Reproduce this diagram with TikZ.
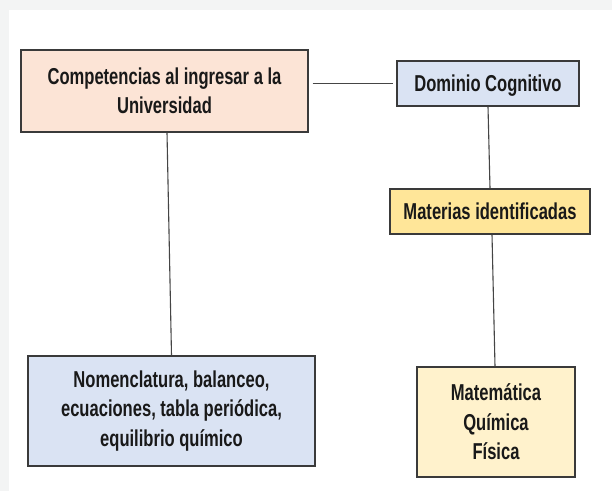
\documentclass[tikz,border=0pt]{standalone}
\usepackage{fontspec}
\newfontfamily\narrowfont{Liberation Sans}[FakeStretch=0.72]
\usetikzlibrary{shadows}
\definecolor{bgouter}{HTML}{F3F4F4}
\definecolor{peach}{HTML}{FCE4D6}
\definecolor{lblue}{HTML}{DAE3F3}
\definecolor{yel}{HTML}{FFE699}
\definecolor{lyel}{HTML}{FFF2CC}
\definecolor{edge}{HTML}{3A3A3A}
\definecolor{wire}{HTML}{454545}
\tikzset{
  boxstyle/.style={draw=edge, line width=1.2pt, inner sep=0pt, align=center,
    font=\narrowfont\bfseries\fontsize{23}{29.5}\selectfont, text=black!90,
    drop shadow={shadow xshift=0.8pt, shadow yshift=-1.2pt, opacity=0.35, fill=black}},
  wirestyle/.style={draw=wire, line width=1.1pt}
}
\begin{document}
\begin{tikzpicture}[x=1pt, y=-1pt]
\useasboundingbox (0,0) rectangle (612,491);
\fill[bgouter] (0,0) rectangle (612,491);
\fill[white] (9,10) rectangle (612,491);

\node[boxstyle, fill=peach, minimum width=287pt, minimum height=82pt] (b1) at (164.5,91)
  {Competencias al ingresar a la\\Universidad};
\node[boxstyle, fill=lblue, minimum width=182pt, minimum height=45pt, text depth=0pt] (b2) at (488,83.5)
  {Dominio Cognitivo};
\node[boxstyle, fill=yel, minimum width=200pt, minimum height=45pt] (b3) at (490,211.5)
  {Materias identificadas};
\node[boxstyle, fill=lblue, minimum width=287pt, minimum height=110pt] (b4) at (171.5,411)
  {Nomenclatura, balanceo,\\ecuaciones, tabla periódica,\\equilibrio químico};
\node[boxstyle, fill=lyel, minimum width=158pt, minimum height=110pt] (b5) at (496,422)
  {Matemática\\Química\\Física};

\draw[wirestyle, line width=1.7pt] ([xshift=4pt]b1.east |- b2.west) -- ([xshift=-3pt]b2.west);
\draw[wirestyle] (b2.south) -- (b3.north);
\draw[wirestyle] ([xshift=2.5pt]b1.south) -- (b4.north);
\draw[wirestyle] ([xshift=2pt]b3.south) -- ([xshift=-1pt]b5.north);
\end{tikzpicture}
\end{document}
